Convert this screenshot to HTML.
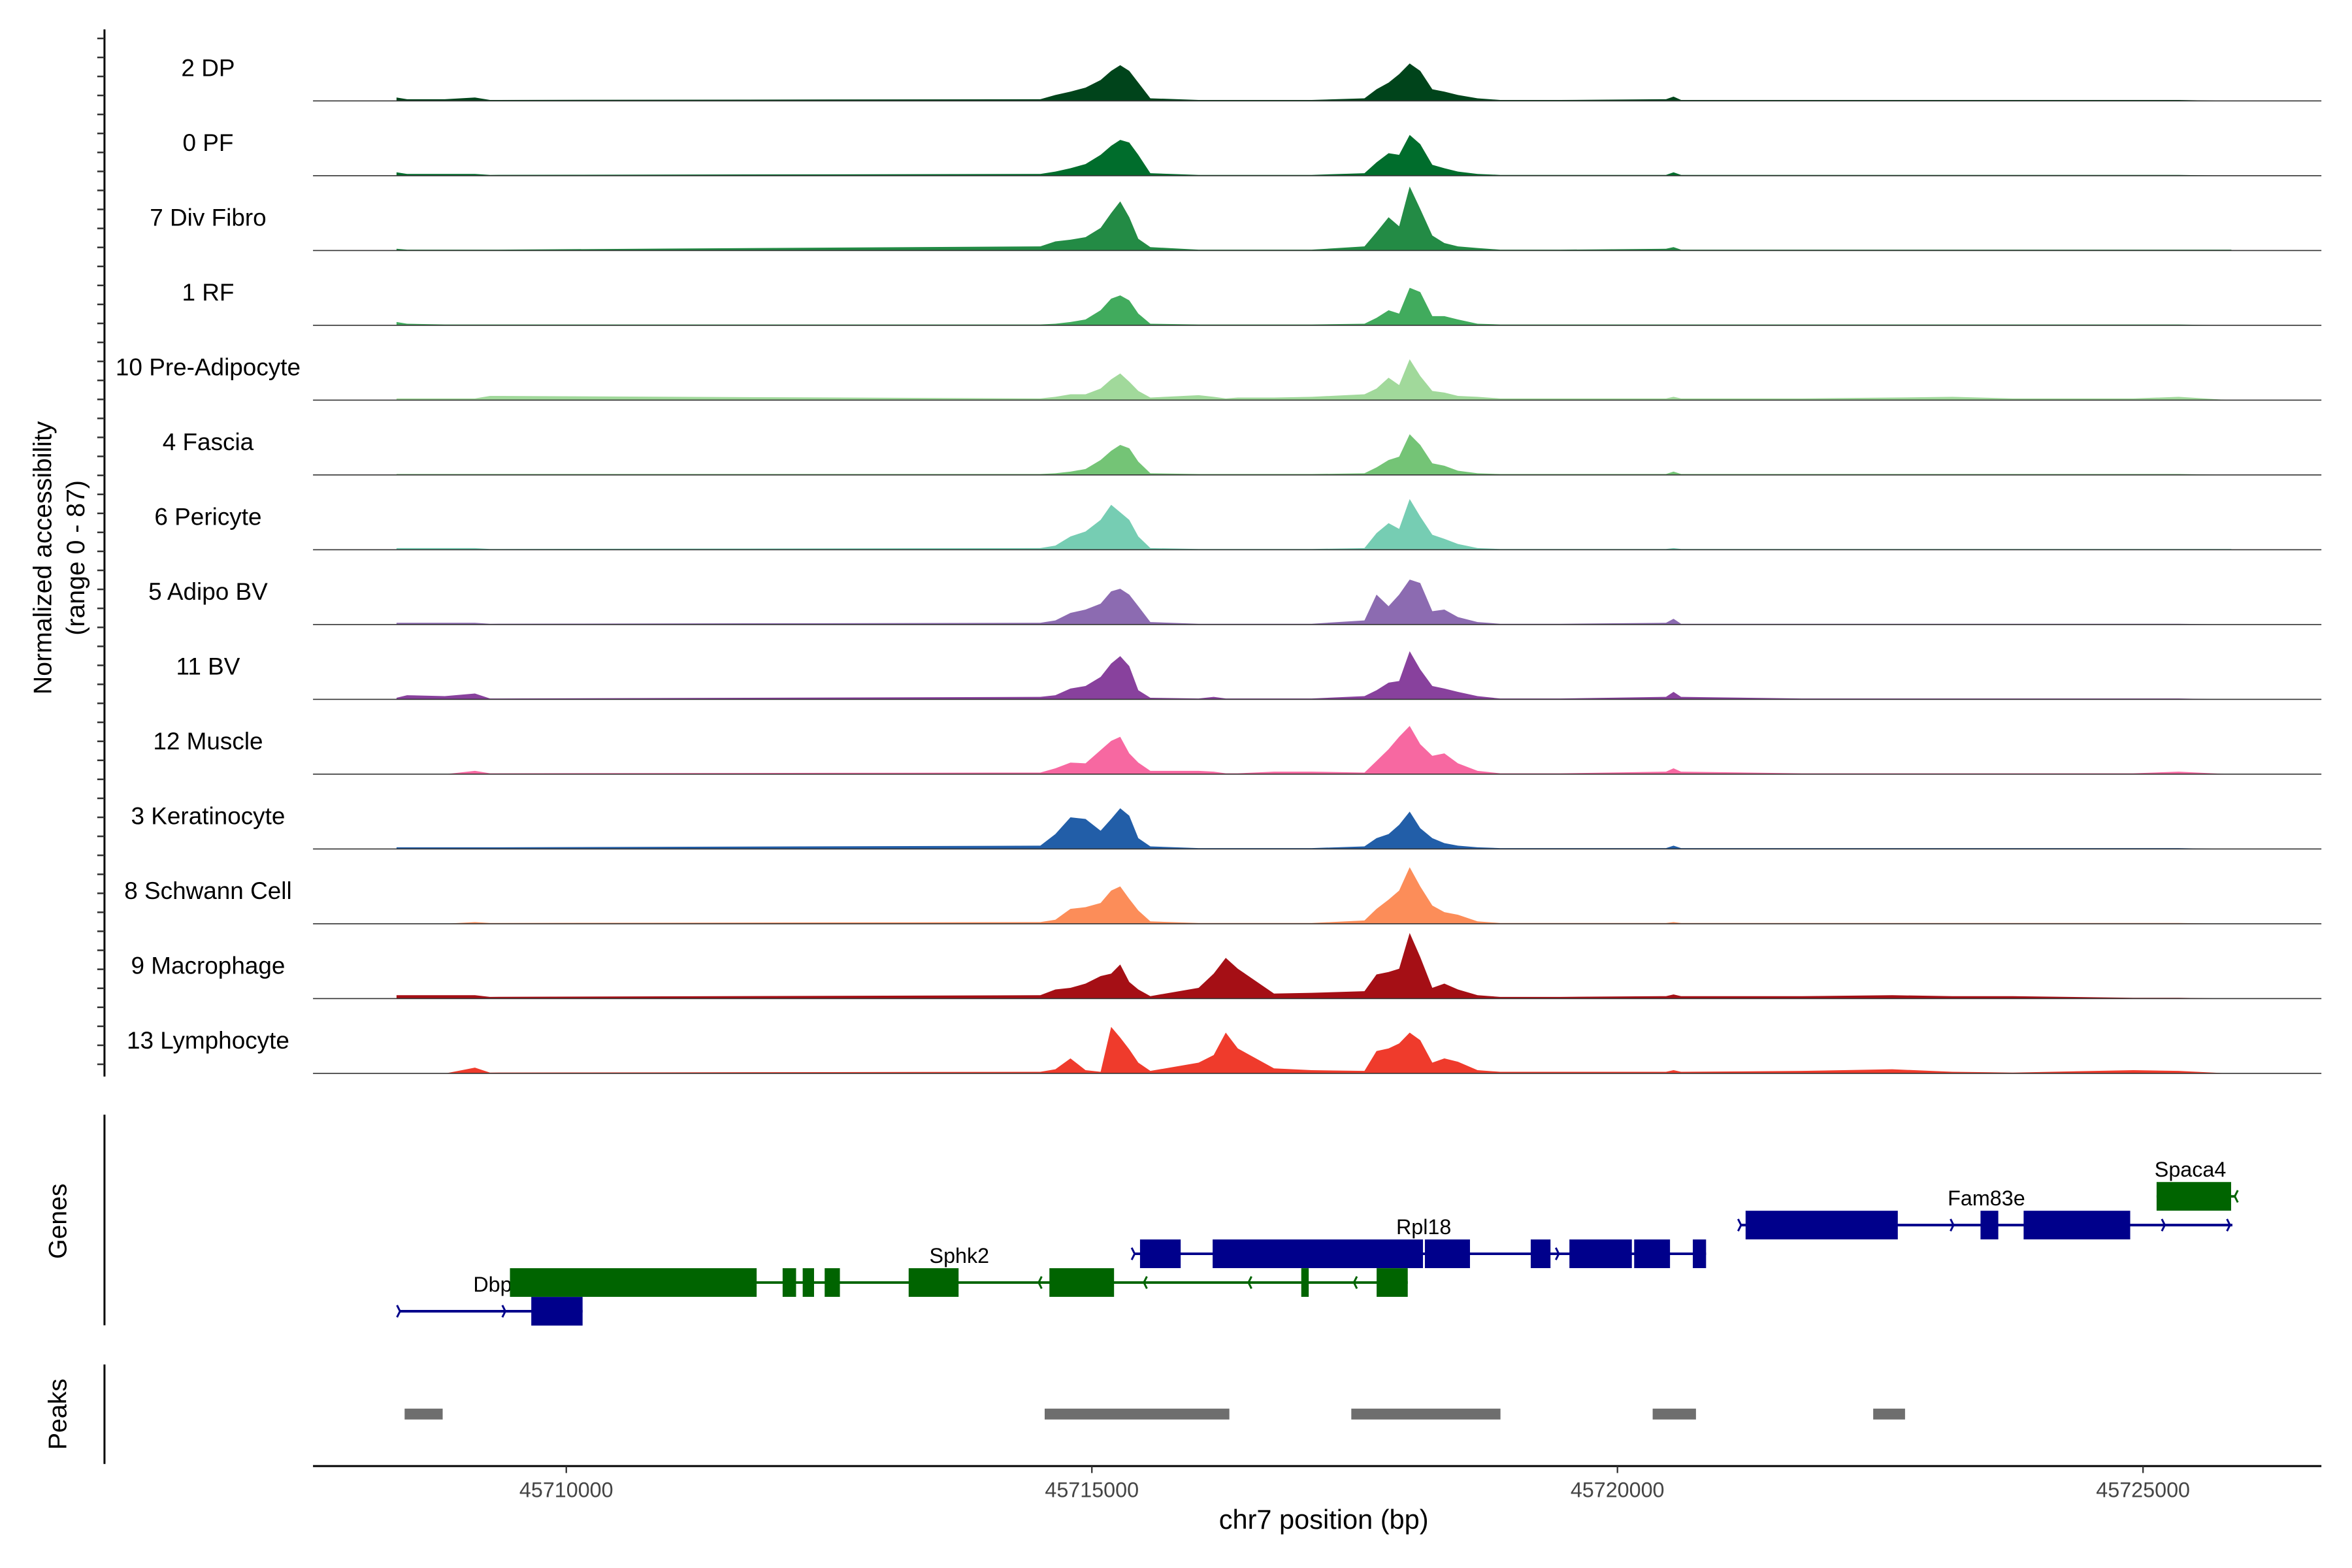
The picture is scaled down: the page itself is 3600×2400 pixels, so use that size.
<!DOCTYPE html>
<html><head><meta charset="utf-8"><style>
html,body{margin:0;padding:0;background:#fff;}
svg{display:block;font-family:"Liberation Sans",sans-serif;}
</style></head><body>
<svg id="chart" width="3600" height="2400" viewBox="0 0 1560 1040" xmlns="http://www.w3.org/2000/svg">
<g id="tracks"></g>
<g id="yaxis">
<line x1="69.3" y1="19.5" x2="69.3" y2="714" stroke="#000" stroke-width="1.3"/>
</g>
<text transform="translate(34,370) rotate(-90)" text-anchor="middle" font-size="17">Normalized accessibility</text>
<text transform="translate(56,370) rotate(-90)" text-anchor="middle" font-size="17">(range 0 - 87)</text>
<g id="genes">
<line x1="69.3" y1="739.3" x2="69.3" y2="879" stroke="#000" stroke-width="1.3"/>
<text transform="translate(44,810) rotate(-90)" text-anchor="middle" font-size="17">Genes</text>
</g>
<g id="peaks">
<line x1="69.3" y1="905" x2="69.3" y2="971" stroke="#000" stroke-width="1.3"/>
<text transform="translate(44,938) rotate(-90)" text-anchor="middle" font-size="17">Peaks</text>
</g>
<g id="xaxis">
<line x1="207.6" y1="972.4" x2="1539.7" y2="972.4" stroke="#000" stroke-width="1.3"/>
<text x="878" y="1014" text-anchor="middle" font-size="18">chr7 position (bp)</text>
</g>
</svg>
<script>
const positions=[45708385,45708485,45708844,45709131,45709274,45714509,45714653,45714796,45714940,45715083,45715184,45715270,45715356,45715442,45715556,45716015,45716159,45716274,45716388,45716733,45717091,45717593,45717708,45717823,45717923,45718023,45718124,45718239,45718353,45718482,45718669,45718884,45719458,45720462,45720534,45720605,45721752,45722613,45723187,45723761,45724908,45725338,45725840];
const trackNames=["2 DP","0 PF","7 Div Fibro","1 RF","10 Pre-Adipocyte","4 Fascia","6 Pericyte","5 Adipo BV","11 BV","12 Muscle","3 Keratinocyte","8 Schwann Cell","9 Macrophage","13 Lymphocyte"];
const trackColors=["#00441b","#006d2c","#238b45","#41ab5d","#a1d99b","#74c476","#76cdb3","#8c6bb1","#88419d","#f768a1","#225ea8","#fc8d59","#a50f15","#ef3b2c"];
const vDP=[4,2,2,4,1,2,7,11,16,25,36,43,36,22,3,1,1,1,1,1,1,3,14,22,32,45,36,14,11,7,3,1,1,2,5,1,1,1,1,1,1,1,0];
const vPF=[4,2,2,2,1,2,5,9,14,25,36,43,40,25,3,1,1,1,1,1,1,3,16,27,25,49,38,13,9,5,2,1,1,1,4,1,1,1,1,1,1,1,0];
const vDiv=[2,1,1,1,1,5,11,13,16,27,45,59,40,14,4,1,1,1,1,1,1,5,22,40,29,77,50,18,9,5,3,1,1,2,4,1,1,1,1,1,1,1,1];
const vRF=[4,2,1,1,1,1,2,4,7,18,32,36,30,14,2,1,1,1,1,1,1,2,9,18,14,45,40,11,11,7,2,1,1,1,1,1,1,1,1,1,1,1,0];
const vPre=[2,2,2,2,5,2,4,7,7,14,25,32,22,11,3,6,4,2,3,3,4,7,14,27,18,49,29,11,9,5,4,2,2,2,4,2,2,3,4,2,2,4,0];
const vFas=[1,1,1,1,1,1,2,4,7,18,29,36,32,16,2,1,1,1,1,1,1,2,9,18,22,49,36,14,11,5,2,1,1,1,4,1,1,1,1,1,1,1,0];
const vPer=[2,2,2,2,1,2,5,16,22,36,54,45,36,16,2,1,1,1,1,1,1,2,20,32,25,61,40,18,13,7,2,1,1,1,2,1,1,1,1,1,1,1,1];
const vAdBV=[2,2,2,2,1,2,5,14,18,25,40,43,36,22,3,1,1,1,1,1,1,5,36,22,36,54,50,16,18,9,3,1,1,2,7,1,1,1,1,1,1,1,0];
const vBV=[2,5,4,7,1,3,5,13,16,27,43,52,40,11,2,1,3,1,1,1,1,4,11,20,22,58,36,16,13,9,4,1,1,3,9,3,1,1,1,1,1,1,0];
const vMus=[0,0,0,4,1,2,7,14,13,29,40,45,25,14,4,4,3,1,1,3,3,2,16,30,45,58,36,22,25,13,4,1,1,3,7,3,1,1,1,1,1,3,0];
const vKer=[2,2,2,2,2,4,18,38,36,22,36,49,40,13,3,1,1,1,1,1,1,3,13,18,29,45,25,13,7,4,2,1,1,1,4,1,1,1,1,1,1,1,0];
const vSch=[0,0,0,2,1,2,5,18,20,25,40,45,30,16,3,1,1,1,1,1,1,4,18,29,40,68,45,22,14,11,3,1,1,1,2,1,1,1,1,1,1,1,0];
const vMac=[4,4,4,4,2,4,11,13,18,27,30,41,20,11,3,13,30,49,36,6,7,9,29,32,36,79,50,13,18,11,4,2,2,3,5,3,3,4,3,3,1,1,0];
const vLym=[0,0,0,7,1,2,5,18,4,2,56,43,29,13,3,13,22,49,30,6,4,3,27,30,36,49,40,13,18,14,4,2,2,2,4,2,3,5,2,1,4,3,0];
const trackValues=[vDP,vPF,vDiv,vRF,vPre,vFas,vPer,vAdBV,vBV,vMus,vKer,vSch,vMac,vLym];
const xTicks=[45710000,45715000,45720000,45725000];
const peakStarts=[45708462,45714551,45717468,45720335,45722433];
const peakEnds=[45708824,45716308,45718887,45720747,45722736];
const geneNames=["Dbp","Sphk2","Rpl18","Fam83e","Spaca4"];
const geneStrand=[1,-1,1,1,-1];
const geneStart=[45708411,45709464,45715400,45721169,45725129];
const geneEnd=[45710155,45718005,45720843,45725850,45725880];
const geneRow=[4,3,2,1,0];
const geneColor=["#00008b","#006400","#00008b","#00008b","#006400"];
const geneLabelBp=[45709299,45713739,45718157,45723510,45725450];
const arrowGene=[0,0,1,1,1,1,2,2,3,3,3,3,4];
const arrowBp=[45708411,45709413,45714501,45715502,45716497,45717500,45715400,45719435,45721169,45723190,45725200,45725820,45725880];
const exonGene=[0,1,1,1,1,1,1,1,1,2,2,2,2,2,2,2,3,3,3,4];
const exonStart=[45709667,45709464,45712058,45712249,45712458,45713257,45714596,45716992,45717709,45715458,45716149,45718168,45719175,45719543,45720159,45720717,45721219,45723454,45723864,45725129];
const exonEnd=[45710155,45711811,45712186,45712357,45712603,45713732,45715211,45717063,45718005,45715845,45718150,45718597,45719363,45720137,45720500,45720843,45722667,45723623,45724878,45725838];

const NS="http://www.w3.org/2000/svg";
const x=bp=>375.6+(bp-45710000)*348.6/5000;
const TH=48, VMAX=87;
const base=i=>66.9+i*49.62;
function mk(tag,attrs,parent){const e=document.createElementNS(NS,tag);for(const k in attrs)e.setAttribute(k,attrs[k]);parent.appendChild(e);return e;}

const tg=document.getElementById('tracks');
trackValues.forEach((vals,i)=>{
  const b=base(i);
  const g=mk('g',{},tg);
  
  
  let d='M'+x(positions[0]).toFixed(1)+','+b;
  positions.forEach((p,j)=>{d+=' L'+x(p).toFixed(1)+','+(b-vals[j]/VMAX*TH).toFixed(1);});
  d+=' L'+x(positions[positions.length-1]).toFixed(1)+','+b+' Z';
  const a=mk('path',{d:d,fill:trackColors[i]},g);
  
  
  const l=mk('line',{x1:207.6,y1:b,x2:1539.7,y2:b,stroke:'#333','stroke-width':0.7},g);
  
  
  const t=mk('text',{x:138,y:b-16.5,'text-anchor':'middle','font-size':16},g);
  t.textContent=trackNames[i];
  
  
});
const ya=document.getElementById('yaxis');
for(let y=25.5;y<=714;y+=12.6){const tk=mk('line',{x1:64.5,y1:y,x2:69.3,y2:y,stroke:'#333','stroke-width':1.1},ya);}

const xa=document.getElementById('xaxis');
xTicks.forEach(v=>{
  const tk=mk('line',{x1:x(v),y1:972.4,x2:x(v),y2:977,stroke:'#333'},xa);
  
  
  const t=mk('text',{x:x(v),y:993,'text-anchor':'middle','font-size':14,fill:'#444'},xa);
  t.textContent=v;
  
  
});

const pg=document.getElementById('peaks');
peakStarts.forEach((s,i)=>{
  const r=mk('rect',{x:x(s),y:934.3,width:x(peakEnds[i])-x(s),height:7.2,fill:'#6e6e6e'},pg);
  
  
});

const gg=document.getElementById('genes');
const rowY=r=>793.5+r*19.05;
geneNames.forEach((n,i)=>{
  const y=rowY(geneRow[i]);const c=geneColor[i];
  const g=mk('g',{},gg);
  
  
  mk('line',{x1:x(geneStart[i]),y1:y,x2:x(geneEnd[i]),y2:y,stroke:c,'stroke-width':1.7},g);
  const t=mk('text',{x:x(geneLabelBp[i]),y:y-13,'text-anchor':'middle','font-size':14},g);
  t.textContent=n;
  
  
});
exonStart.forEach((s,k)=>{
  const gi=exonGene[k];const y=rowY(geneRow[gi]);
  const r=mk('rect',{x:x(s),y:y-9.5,width:Math.max(x(exonEnd[k])-x(s),2.5),height:19,fill:geneColor[gi]},gg);
  
  
});
arrowBp.forEach((p,k)=>{
  const gi=arrowGene[k];const y=rowY(geneRow[gi]);const ax=x(p);
  const dd=geneStrand[gi]>0?`M${ax-1.5},${y-4} L${ax+0.5},${y} L${ax-1.5},${y+4}`:`M${ax+1.5},${y-4} L${ax-0.5},${y} L${ax+1.5},${y+4}`;
  const a=mk('path',{d:dd,stroke:geneColor[gi],fill:'none','stroke-width':1.3},gg);
  
  
});
</script>
</body></html>
